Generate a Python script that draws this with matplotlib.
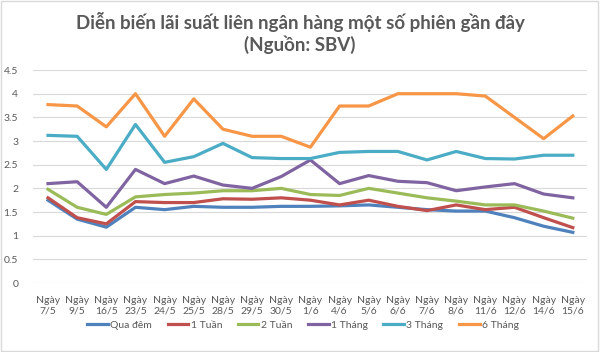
import matplotlib.pyplot as plt
from matplotlib.patches import Rectangle

# ---- data
dates = ["7/5", "9/5", "16/5", "23/5", "24/5", "25/5", "28/5", "29/5", "30/5", "1/6",
         "4/6", "5/6", "6/6", "7/6", "8/6", "11/6", "12/6", "14/6", "15/6"]

qua_dem = [1.75, 1.35, 1.18, 1.60, 1.55, 1.62, 1.60, 1.60, 1.62, 1.62,
           1.63, 1.65, 1.60, 1.55, 1.52, 1.52, 1.38, 1.20, 1.07]
tuan_1 = [1.80, 1.38, 1.25, 1.72, 1.70, 1.70, 1.78, 1.77, 1.80, 1.75,
          1.65, 1.75, 1.62, 1.53, 1.65, 1.55, 1.60, 1.38, 1.17]
tuan_2 = [1.98, 1.60, 1.45, 1.82, 1.87, 1.90, 1.95, 1.95, 2.00, 1.87,
          1.85, 2.00, 1.90, 1.80, 1.73, 1.65, 1.65, 1.52, 1.37]
thang_1 = [2.10, 2.14, 1.60, 2.40, 2.10, 2.26, 2.07, 2.00, 2.25, 2.60,
           2.10, 2.27, 2.15, 2.12, 1.95, 2.03, 2.10, 1.88, 1.80]
thang_3 = [3.12, 3.10, 2.40, 3.35, 2.55, 2.67, 2.95, 2.65, 2.63, 2.63,
           2.76, 2.78, 2.78, 2.60, 2.78, 2.63, 2.62, 2.70, 2.70]
thang_6 = [3.77, 3.74, 3.30, 4.00, 3.10, 3.89, 3.25, 3.10, 3.10, 2.87,
           3.74, 3.74, 4.00, 4.00, 4.00, 3.95, 3.50, 3.05, 3.53]

series_names = ["Qua đêm", "1 Tuần", "2 Tuần", "1 Tháng", "3 Tháng", "6 Tháng"]
series_values = [qua_dem, tuan_1, tuan_2, thang_1, thang_3, thang_6]
colors = ["#4F81BD", "#C0504D", "#9BBB59", "#8064A2", "#4BACC6", "#F79646"]

yticks = [0, 0.5, 1, 1.5, 2, 2.5, 3, 3.5, 4, 4.5]
ytick_labels = ["0", "0.5", "1", "1.5", "2", "2.5", "3", "3.5", "4", "4.5"]

plt.rcParams["font.family"] = ["Lato", "DejaVu Sans"]
text_grey = "#595959"

fig = plt.figure(figsize=(6.0, 3.52), dpi=100)
fig.patches.append(Rectangle((0.002, 0.003), 0.994, 0.994, transform=fig.transFigure,
                             fill=False, edgecolor="#D9D9D9", linewidth=1.0))

ax = fig.add_axes([0.0557, 0.196, 0.9233, 0.605])
x = list(range(len(dates)))
for name, vals, c in zip(series_names, series_values, colors):
    ax.plot(x, vals, color=c, linewidth=2.3, label=name, solid_joinstyle="round")

ax.set_xlim(-0.5, len(dates) - 0.5)
ax.set_ylim(0, 4.5)
ax.set_yticks(yticks)
ax.set_yticklabels(ytick_labels)
ax.set_xticks(x)
ax.set_xticklabels(["Ngày\n" + d for d in dates], linespacing=1.3)
ax.tick_params(axis="both", length=0, labelsize=7.5, colors=text_grey, pad=9)
ax.tick_params(axis="y", pad=11)
ax.grid(axis="y", color="#D9D9D9", linewidth=0.8)
ax.set_axisbelow(True)
for s in ax.spines.values():
    s.set_visible(False)

fig.text(0.5, 0.937, "Diễn biến lãi suất liên ngân hàng một số phiên gần đây",
         ha="center", va="center", fontsize=13.5, fontweight="bold", color=text_grey)
fig.text(0.5, 0.872, "(Nguồn: SBV)", ha="center", va="center",
         fontsize=13.5, fontweight="bold", color=text_grey)

fig.legend(loc="center", bbox_to_anchor=(0.505, 0.077), ncol=6, frameon=False,
           fontsize=7.5, handlelength=2.0, handletextpad=0.2, columnspacing=1.5,
           labelcolor=text_grey)

fig.savefig("out.png", dpi=100)
